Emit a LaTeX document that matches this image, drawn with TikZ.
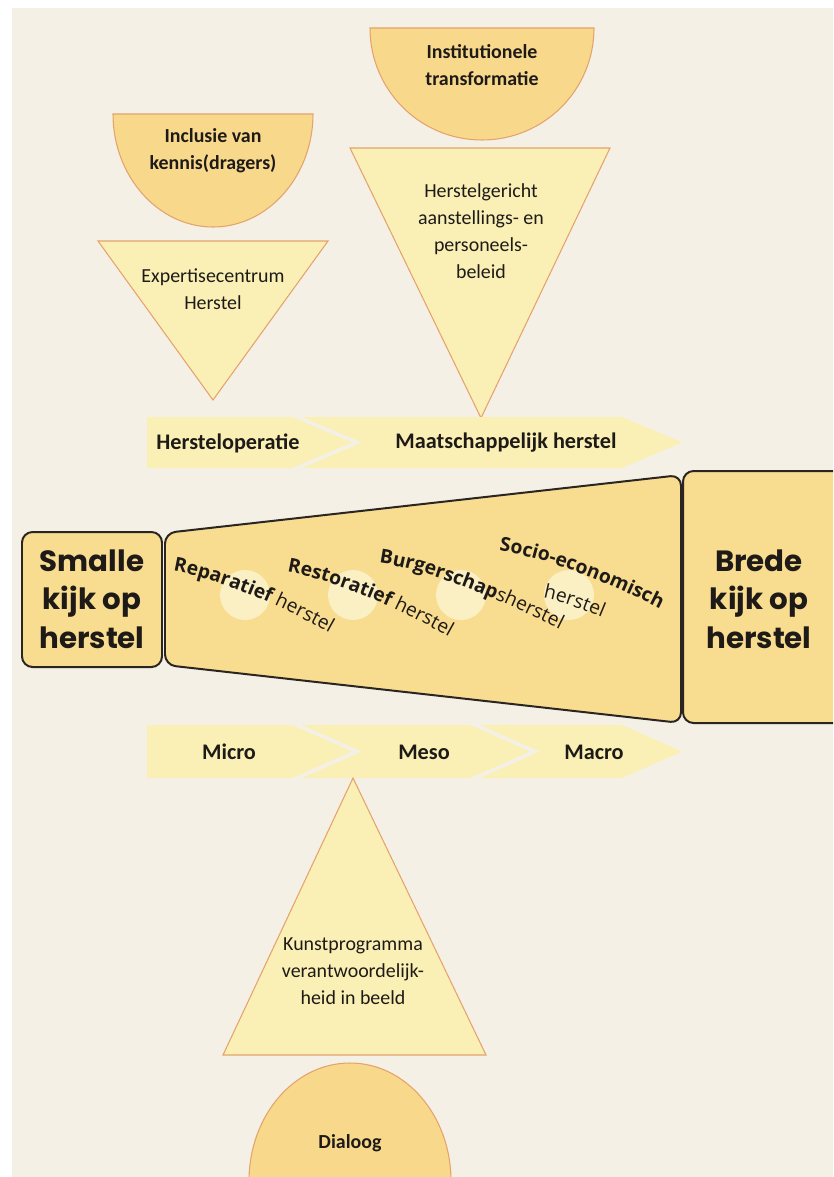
\documentclass[tikz,border=0pt]{standalone}
\usepackage{fontspec}
\usetikzlibrary{decorations.text}
\newfontfamily\calfont{Carlito}
\newfontfamily\funfam{Open Sans}
\newfontfamily\bigfam{Poppins}
\newcommand\funbold{\funfam\bfseries\fontsize{16.5}{18}\selectfont}
\newcommand\funreg{\funfam\mdseries\fontsize{16.5}{18}\selectfont}
\definecolor{bgbeige}{HTML}{F4F0E5}
\definecolor{palefill}{HTML}{FAF0B5}
\definecolor{goldfill}{HTML}{F8D98C}
\definecolor{funfill}{HTML}{F8DC8F}
\definecolor{glow}{HTML}{FBF0C3}
\definecolor{edgeor}{HTML}{E6A26B}
\definecolor{ink}{HTML}{1E1A17}
\definecolor{boxline}{HTML}{2B2521}
\tikzset{
  tri/.style={fill=palefill,draw=edgeor,line width=0.9pt},
  halfdisc/.style={fill=goldfill,draw=edgeor,line width=0.9pt},
  band/.style={fill=palefill},
  view/.style={fill=funfill,draw=boxline,line width=1.7pt,rounded corners=9pt},
  txt/.style={font=\calfont\fontsize{17}{23}\selectfont,align=center,text=ink},
  btxt/.style={txt,font=\calfont\bfseries\fontsize{17}{23}\selectfont},
  steplbl/.style={txt,font=\calfont\bfseries\fontsize{19}{23}\selectfont},
  bigtxt/.style={font=\bigfam\bfseries\fontsize{25}{33}\selectfont,align=center,text=ink},
  curved/.style={decorate,decoration={text along path,text align=left,text color=ink,text={#1}}}
}
\begin{document}
\begin{tikzpicture}[x=0.03cm,y=-0.03cm]
\useasboundingbox (0,0) rectangle (833,1177);
\fill[white] (0,0) rectangle (833,1177);
\fill[bgbeige] (12,8) rectangle (833,1177);

% upper half: pointing down
\draw[halfdisc] (370,28) .. controls (370,90) and (420,140) .. (482,140) .. controls (544,140) and (594,90) .. (594,28) -- cycle;
\draw[halfdisc] (113,114) .. controls (113,176) and (158,227) .. (213,227) .. controls (268,227) and (313,176) .. (313,114) -- cycle;
\draw[tri] (98,241) -- (328,241) -- (213,400) -- cycle;
\draw[tri] (350,148) -- (610,148) -- (481,418) -- cycle;

\node[btxt] (inst) at (482,65) {Institutionele\\transformatie};
\node[btxt] (incl) at (213,151) {Inclusie van\\kennis(dragers)};
\node[txt] (expert) at (213,289) {Expertisecentrum\\Herstel};
\node[txt] (beleid) at (481,231) {Herstelgericht\\aanstellings- en\\personeels-\\beleid};

\fill[band] (147,417) -- (292,417) -- (352,442.5) -- (292,468) -- (147,468) -- cycle;
\fill[band] (302,417) -- (622,417) -- (682,442.5) -- (622,468) -- (302,468) -- (362,442.5) -- cycle;
\node[steplbl] (herstop) at (228,443) {Hersteloperatie};
\node[steplbl] (maatsch) at (506,443) {Maatschappelijk herstel};

% funnel
\draw[view] (22,532) rectangle (162,667);
\draw[view] (165,533) -- (681,475) -- (681,723) -- (165,665) -- cycle;
\begin{scope}
  \clip (0,0) rectangle (833,1177);
  \draw[view] (683,471) rectangle (860,723);
\end{scope}
\node[bigtxt] (smalle) at (92,599) {Smalle\\kijk op\\herstel};
\node[bigtxt] (brede) at (759,599) {Brede\\kijk op\\herstel};

\foreach \cx in {245,353,461,569}
  \fill[glow] (\cx,595) circle (25);

\path[curved={|\funbold|Reparatief |\funreg|herstel}] (173,571) .. controls (215,578) and (285,605) .. (355,648);
\path[curved={|\funbold|Restoratief |\funreg|herstel}] (287,572) .. controls (329,579) and (399,606) .. (475,652);
\path[curved={|\funbold|Burgerschap|\funreg|sherstel}] (379,563) .. controls (425,569) and (500,597) .. (590,645);
\path[curved={|\funbold|Socio-economisch}] (499,551) .. controls (545,557) and (620,585) .. (700,630);
\path[curved={|\funreg|herstel}] (543,598) .. controls (565,602) and (590,612) .. (640,634);

\fill[band] (147,725) -- (292,725) -- (352,751.5) -- (292,778) -- (147,778) -- cycle;
\fill[band] (302,725) -- (470,725) -- (530,751.5) -- (470,778) -- (302,778) -- (362,751.5) -- cycle;
\fill[band] (480,725) -- (622,725) -- (682,751.5) -- (622,778) -- (480,778) -- (540,751.5) -- cycle;
\node[steplbl] (micro) at (229,752) {Micro};
\node[steplbl] (meso) at (424,752) {Meso};
\node[steplbl] (macro) at (594,752) {Macro};

% lower half: pointing up
\draw[tri] (223,1055) -- (486,1055) -- (353,778) -- cycle;
\begin{scope}
  \clip (0,0) rectangle (833,1177);
  \draw[halfdisc] (249,1190) -- (249,1181) .. controls (249,1116) and (294,1063) .. (350,1063) .. controls (406,1063) and (451,1116) .. (451,1181) -- (451,1190);
\end{scope}
\node[txt] (kunst) at (353,971) {Kunstprogramma\\verantwoordelijk-\\heid in beeld};
\node[btxt] (dialoog) at (350,1143) {Dialoog};
\end{tikzpicture}
\end{document}
